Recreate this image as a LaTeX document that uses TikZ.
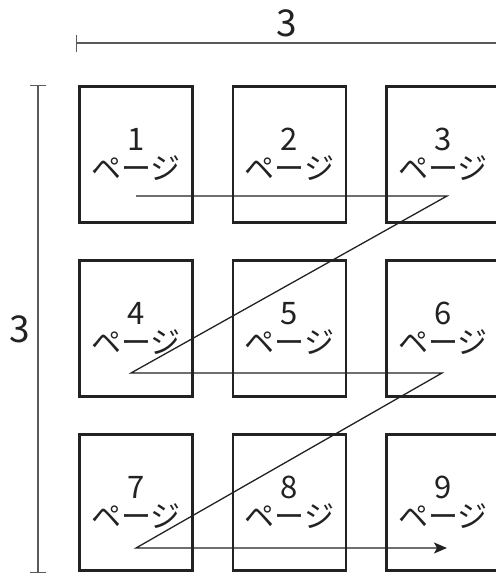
\documentclass[tikz,border=0pt]{standalone}
\usepackage{fontspec}
\setmainfont{Noto Sans CJK JP}
\usetikzlibrary{arrows.meta,positioning,calc}
\definecolor{ink}{RGB}{34,34,34}
\definecolor{dimgray}{RGB}{90,90,90}
\newcommand{\pagenum}[1]{{\fontsize{31}{29}\selectfont #1}}

\begin{document}
\begin{tikzpicture}[
  x=1pt, y=-1pt,
  page/.style={draw=ink, line width=2.6pt, outer sep=0pt, minimum width=113pt, minimum height=136pt,
    align=center, text=ink, font=\fontsize{30}{29}\selectfont},
  dimline/.style={draw=dimgray, line width=1.4pt},
  dimlabel/.style={text=ink, font=\fontsize{37}{37}\selectfont},
  order/.style={draw=ink, line width=1.3pt},
]
  \useasboundingbox (0,0) rectangle (496,574);

  % pages, row by row
  \node[page] (p1) at (136,154.5) {\pagenum{1}\\ページ};
  \node[page, right=40.5pt of p1] (p2) {\pagenum{2}\\ページ};
  \node[page, right=40.5pt of p2] (p3) {\pagenum{3}\\ページ};
  \node[page, below=38pt of p1] (p4) {\pagenum{4}\\ページ};
  \node[page, right=40.5pt of p4] (p5) {\pagenum{5}\\ページ};
  \node[page, right=40.5pt of p5] (p6) {\pagenum{6}\\ページ};
  \node[page, below=38pt of p4] (p7) {\pagenum{7}\\ページ};
  \node[page, right=40.5pt of p7] (p8) {\pagenum{8}\\ページ};
  \node[page, right=40.5pt of p8] (p9) {\pagenum{9}\\ページ};

  % dimensions
  \coordinate (wl) at (76,43);
  \coordinate (wr) at (497,43);
  \draw[dimline, {Bar[width=17pt]}-] (wl) -- node[dimlabel, above=2pt] (wlabel) {3} (wr);
  \coordinate (ht) at (38,85);
  \coordinate (hb) at (38,573);
  \draw[dimline, {Bar[width=16pt]}-{Bar[width=16pt]}] (ht) -- node[dimlabel, left=4pt] (hlabel) {3} (hb);

  % reading order
  \coordinate (a1) at ($(p1)+(0,41.5)$);
  \coordinate (a2) at ($(p3)+(4,41.5)$);
  \coordinate (b1) at ($(p4)+(-5,44.5)$);
  \coordinate (b2) at ($(p6)+(-1,44.5)$);
  \coordinate (c1) at ($(p7)+(0,45.5)$);
  \coordinate (c2) at ($(p9)+(4,45.5)$);
  \draw[order, -{Stealth[length=13pt, width=11pt, inset=3pt]}]
    (a1) -- (a2) -- (b1) -- (b2) -- (c1) -- (c2);
\end{tikzpicture}
\end{document}
